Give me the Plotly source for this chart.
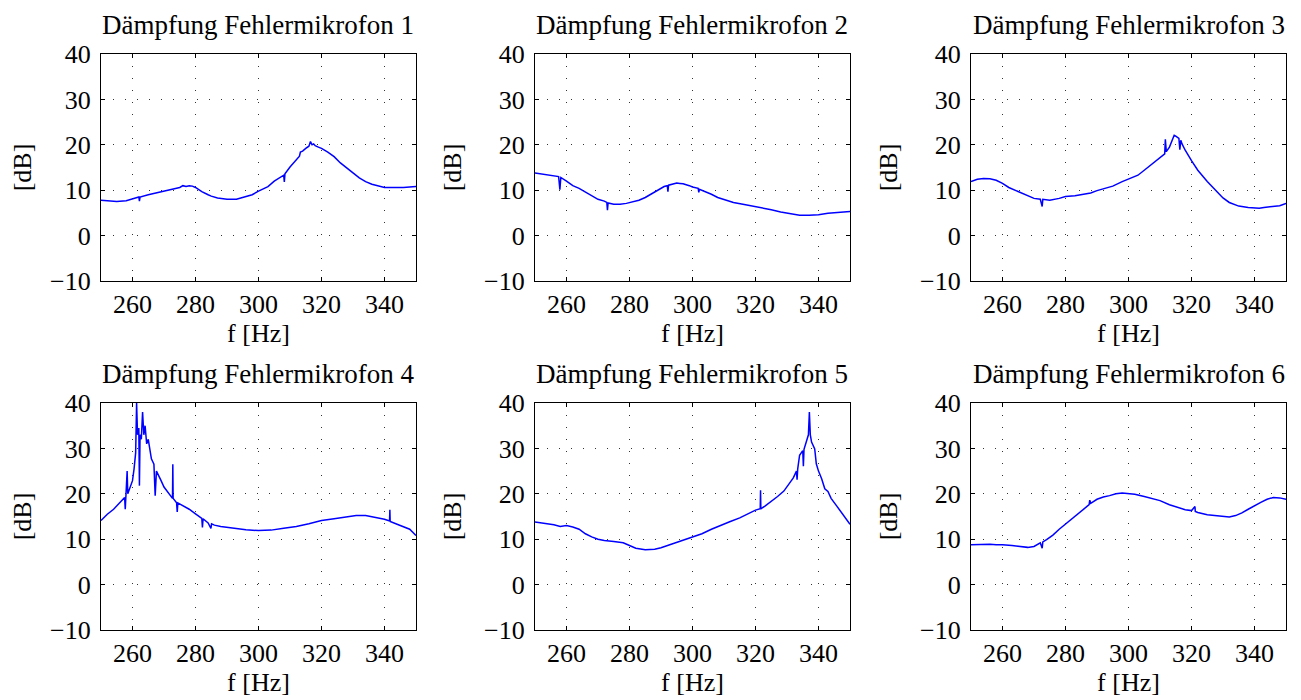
import plotly.graph_objects as go

# ---------------- data ----------------
titles = ["Dämpfung Fehlermikrofon 1", "Dämpfung Fehlermikrofon 2", "Dämpfung Fehlermikrofon 3",
          "Dämpfung Fehlermikrofon 4", "Dämpfung Fehlermikrofon 5", "Dämpfung Fehlermikrofon 6"]
x_ticks = [260, 280, 300, 320, 340]
y_ticks = [-10, 0, 10, 20, 30, 40]
x_label = "f [Hz]"
y_label = "[dB]"

f1 = [250, 252, 255, 258, 260, 262, 262.2, 262.4, 265, 268, 270, 273, 275, 276, 277, 278, 279, 280,
      282, 284, 285, 287, 290, 293, 295, 298, 300, 303, 305, 307, 308, 308.2, 308.4, 310, 312, 313,
      313.3, 314, 315, 316, 316.5, 317, 317.5, 318, 319, 320, 322, 324, 326, 328, 330, 332, 334, 336,
      338, 340, 343, 346, 350]
d1 = [7.8, 7.7, 7.5, 7.7, 8.1, 8.5, 7.6, 8.5, 9.0, 9.5, 9.8, 10.3, 10.6, 11.0, 10.8, 11.0, 10.9, 10.6,
      9.7, 9.0, 8.7, 8.3, 8.0, 8.0, 8.4, 9.0, 9.8, 10.8, 12.0, 12.9, 13.3, 11.8, 13.6, 15.1, 16.7, 17.5,
      18.4, 18.6, 19.2, 19.7, 20.7, 20.0, 20.2, 19.8, 19.5, 19.2, 18.4, 17.4, 16.0, 14.8, 13.8, 12.7, 11.9, 11.3,
      10.9, 10.6, 10.6, 10.6, 10.8]

f2 = [250, 252, 254, 256, 257.5, 257.9, 258.2, 260, 262, 264, 266, 268, 270, 272, 272.8, 273, 273.2,
      275, 277, 279, 281, 283, 285, 287, 289, 291, 292, 292.2, 292.4, 294, 295, 296, 297, 299, 300,
      301.8, 302, 302.2, 304, 306, 308, 310, 313, 316, 319, 322, 325, 328, 331, 334, 337, 340, 343, 346, 350]
d2 = [13.8, 13.6, 13.4, 13.2, 13.0, 10.1, 12.8, 12.0, 11.0, 10.4, 9.6, 8.7, 8.0, 7.6, 7.3, 5.6, 7.2,
      6.9, 6.9, 7.1, 7.4, 7.8, 8.4, 9.2, 10.0, 10.8, 11.0, 9.7, 11.1, 11.5, 11.6, 11.5, 11.4, 11.0, 10.7,
      10.4, 9.5, 10.2, 9.7, 9.1, 8.4, 7.9, 7.3, 6.9, 6.5, 6.2, 5.7, 5.2, 4.8, 4.5, 4.5, 4.6, 4.9, 5.1, 5.3]

f3 = [250, 252, 254, 256, 258, 260, 262, 265, 268, 270, 272, 272.6, 272.8, 275, 278, 280, 283, 285,
      288, 290, 293, 295, 298, 300, 303, 305, 308, 310, 311.5, 311.7, 312, 313, 314, 314.5, 315, 316,
      316.3, 316.6, 317, 318, 320, 322, 325, 328, 330, 332, 335, 338, 340, 341.5, 343, 345, 348, 350]
d3 = [11.9, 12.4, 12.6, 12.5, 12.2, 11.5, 10.6, 9.7, 8.7, 8.2, 8.0, 6.4, 8.0, 7.8, 8.2, 8.6, 8.8, 9.0,
      9.4, 9.9, 10.4, 10.9, 11.9, 12.5, 13.3, 14.4, 16.0, 17.2, 18.0, 21.2, 18.5, 19.5, 21.0, 22.1, 21.9, 21.4,
      18.9, 21.0, 20.2, 18.8, 16.5, 14.4, 11.9, 9.7, 8.3, 7.3, 6.5, 6.2, 6.1, 6.0, 6.2, 6.4, 6.6, 7.1]

f4 = [250, 251, 252, 254, 256, 257.5, 257.7, 257.9, 258.3, 258.5, 259, 260, 260.5, 261, 261.3, 261.6,
      262, 262.2, 262.4, 262.8, 263.2, 263.6, 264, 264.5, 265, 266, 266.8, 267.2, 267.6, 268, 269, 270,
      271, 272, 272.7, 272.8, 272.9, 274, 274.2, 274.4, 276, 278, 280, 282, 282.2, 282.4, 284, 284.9,
      285.1, 286, 288, 290, 293, 296, 300, 304, 308, 312, 316, 320, 324, 328, 331, 334, 337, 340, 341.6,
      341.7, 341.8, 344, 346, 348, 350]
d4 = [14.1, 14.8, 15.5, 16.6, 18.1, 19.2, 16.6, 19.5, 25.0, 20.0, 21.0, 22.9, 25.5, 29.0, 40.0, 33.0,
      34.5, 21.8, 33.0, 32.0, 38.0, 33.0, 35.0, 31.0, 32.0, 27.7, 26.5, 19.6, 25.0, 24.5, 23.0, 21.5,
      20.5, 19.6, 19.0, 26.5, 19.0, 18.0, 16.0, 18.0, 17.4, 16.6, 15.6, 14.6, 12.6, 14.5, 13.6, 12.4,
      13.4, 13.1, 12.8, 12.6, 12.3, 12.1, 11.9, 12.0, 12.4, 12.8, 13.4, 14.1, 14.5, 14.9, 15.2, 15.2, 14.8, 14.4, 14.0,
      16.5, 13.9, 13.3, 12.7, 12.2, 10.8]

f5 = [250, 253, 256, 258, 260, 262, 264, 266, 268, 270, 272, 275, 278, 280, 282, 285, 288, 290, 293, 296,
      300, 303, 306, 309, 312, 315, 318, 320, 321.5, 321.6, 321.7, 323, 325, 327, 329, 330.5, 332, 333,
      333.2, 333.4, 334, 335, 335.2, 335.4, 336.2, 336.8, 337.1, 337.4, 337.8, 338.8, 339.3, 340, 341,
      342, 343, 344, 345.7, 347, 348, 349, 350]
d5 = [13.8, 13.5, 13.2, 12.8, 13.0, 12.7, 12.2, 11.2, 10.5, 10.0, 9.7, 9.5, 9.2, 8.6, 8.0, 7.7, 7.8, 8.1, 8.8, 9.5,
      10.4, 11.2, 12.2, 13.1, 13.9, 14.7, 15.8, 16.4, 16.7, 20.8, 16.7, 17.3, 18.3, 19.4, 20.6, 22.2, 23.5, 25.0,
      23.1, 25.5, 28.5, 29.5, 26.1, 29.8, 31.7, 33.0, 38.0, 33.0, 31.4, 29.9, 26.6, 25.0, 23.3,
      21.1, 20.5, 19.0, 17.4, 16.2, 15.2, 14.3, 13.3]

f6 = [250, 253, 256, 258, 260, 263, 265, 268, 270, 272, 272.6, 272.8, 274, 276, 278, 280, 282, 284, 286,
      287.5, 287.7, 288, 290, 292, 294, 296, 298, 300, 302, 305, 308, 310, 313, 315, 318, 320, 321.1,
      321.2, 322, 325, 328, 330, 332, 334, 336, 338, 340, 342, 344, 346, 348, 350]
d6 = [8.8, 8.9, 8.9, 8.8, 8.8, 8.6, 8.4, 8.2, 8.4, 9.2, 8.0, 9.4, 9.9, 10.9, 12.2, 13.3, 14.4, 15.6, 16.8,
      17.6, 18.6, 17.9, 18.8, 19.3, 19.6, 20.0, 20.2, 20.0, 19.9, 19.4, 18.9, 18.5, 17.6, 17.2, 16.5, 16.3, 17.2,
      16.1, 15.9, 15.4, 15.2, 15.0, 14.9, 15.2, 15.8, 16.6, 17.4, 18.1, 18.8, 19.2, 19.1, 18.8]

freqs = [f1, f2, f3, f4, f5, f6]
dbs = [d1, d2, d3, d4, d5, d6]

# ---------------- layout ----------------
# the page body has an 8px margin, so the figure is drawn 8px in from the window corner
OFF = 8
W, H = 1301 - OFF, 700 - OFF
FONT = "Liberation Serif"
FS = 26
FS_TITLE = 27
col_px = [(101 - OFF, 416 - OFF), (535 - OFF, 850 - OFF), (971 - OFF, 1286 - OFF)]
row_px = [(54 - OFF, 281 - OFF), (403 - OFF, 630 - OFF)]

fig = go.Figure()
annotations = []
for i in range(6):
    r, c = divmod(i, 3)
    n = i + 1
    xa = "x" if n == 1 else f"x{n}"
    ya = "y" if n == 1 else f"y{n}"
    fig.add_trace(go.Scatter(x=freqs[i], y=dbs[i], mode="lines", xaxis=xa, yaxis=ya,
                             line=dict(color="#0000ff", width=1.5), showlegend=False,
                             hoverinfo="x+y"))
    xd = [col_px[c][0] / W, col_px[c][1] / W]
    yd = [1 - row_px[r][1] / H, 1 - row_px[r][0] / H]
    common = dict(showline=True, linecolor="black", linewidth=1.2, mirror="ticks",
                  ticks="inside", ticklen=4, tickwidth=1, tickcolor="black",
                  showgrid=True, gridcolor="#333333", gridwidth=1, griddash="1px,11px",
                  zeroline=False, automargin=False,
                  tickfont=dict(family=FONT, size=FS, color="black"))
    fig.layout[("xaxis" if n == 1 else f"xaxis{n}")] = dict(
        domain=xd, anchor=ya, range=[250, 350], tickvals=x_ticks,
        title=dict(text=x_label, font=dict(family=FONT, size=FS, color="black"), standoff=4),
        **common)
    fig.layout[("yaxis" if n == 1 else f"yaxis{n}")] = dict(
        domain=yd, anchor=xa, range=[-10, 40], tickvals=y_ticks, ticklabelstandoff=4,
        title=dict(text=y_label, font=dict(family=FONT, size=FS, color="black"), standoff=14),
        **common)
    annotations.append(dict(text=titles[i], xref="paper", yref="paper",
                            x=(xd[0] + xd[1]) / 2, y=yd[1], xanchor="center", yanchor="bottom",
                            yshift=13, showarrow=False, borderpad=0,
                            font=dict(family=FONT, size=FS_TITLE, color="black")))

fig.update_layout(width=W, height=H, margin=dict(l=0, r=0, t=0, b=0),
                  paper_bgcolor="white", plot_bgcolor="white",
                  annotations=annotations, font=dict(family=FONT, size=FS, color="black"))

fig.write_html("out.html")
